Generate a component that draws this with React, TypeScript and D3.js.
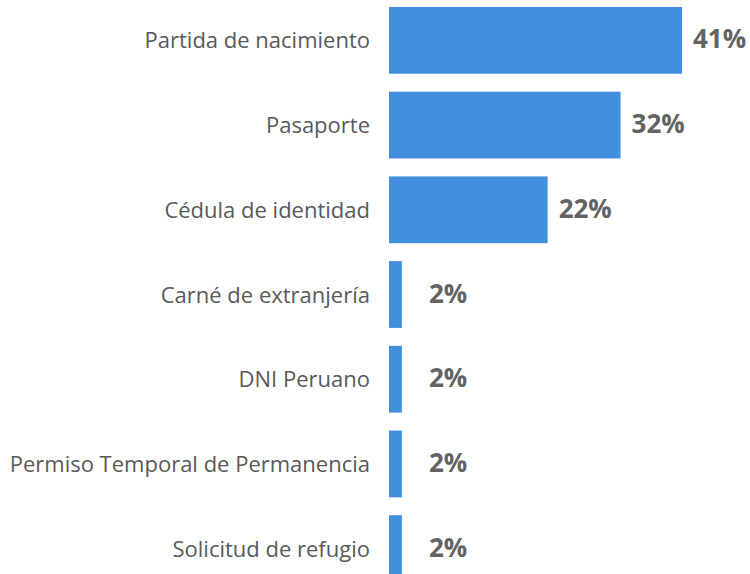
import * as d3 from 'd3'

const categories = [
  'Partida de nacimiento',
  'Pasaporte',
  'Cédula de identidad',
  'Carné de extranjería',
  'DNI Peruano',
  'Permiso Temporal de Permanencia',
  'Solicitud de refugio',
]
const values = [41, 32.4, 22.2, 1.8, 1.8, 1.8, 1.8]
const valueLabels = ['41%', '32%', '22%', '2%', '2%', '2%', '2%']

const width = 750
const height = 574
const barLeft = 389
const barRight = 682
const font = '"Open Sans", "Noto Sans", sans-serif'

export default function App() {
  const x = d3.scaleLinear([0, d3.max(values) as number], [barLeft, barRight])
  const y = d3
    .scaleBand(categories, [-2, 591])
    .paddingInner(0.212)
    .paddingOuter(0.106)

  return (
    <svg
      width={width}
      height={height}
      viewBox={`0 0 ${width} ${height}`}
      style={{ position: 'absolute', left: 0, top: 0, background: '#fff' }}
    >
      <g>
        {categories.map((c, i) => (
          <rect
            key={c}
            x={x(0)}
            y={y(c)}
            width={x(values[i]) - x(0)}
            height={y.bandwidth()}
            fill="#418fde"
          />
        ))}
      </g>
      <g fontFamily={font} fontSize={22} fill="#595959" textAnchor="end">
        {categories.map((c) => (
          <text key={c} x={x(0) - 19} y={(y(c) as number) + y.bandwidth() / 2 + 8}>
            {c}
          </text>
        ))}
      </g>
      <g fontFamily={font} fontSize={26} fontWeight="bold" fill="#636363">
        {categories.map((c, i) => (
          <text
            key={c}
            x={Math.max(x(values[i]) + 11, x(0) + 40)}
            y={(y(c) as number) + y.bandwidth() / 2 + 8}
          >
            {valueLabels[i]}
          </text>
        ))}
      </g>
    </svg>
  )
}
